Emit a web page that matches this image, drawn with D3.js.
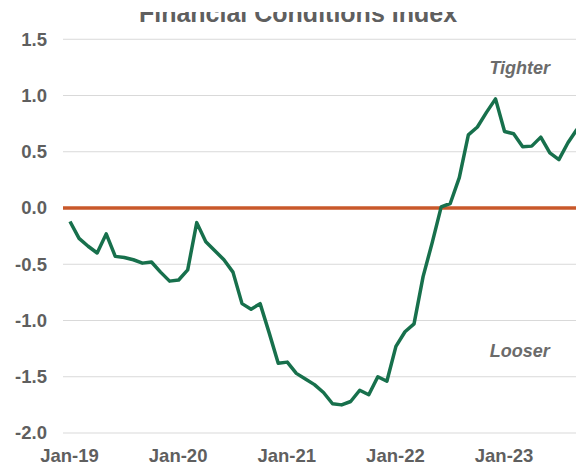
<!DOCTYPE html>
<html>
<head>
<meta charset="utf-8">
<script src="https://cdn.jsdelivr.net/npm/d3@7"></script>
<style>
  html, body { margin: 0; padding: 0; background: #ffffff; }
  svg { display: block; }
</style>
</head>
<body>
<div id="chart"></div>
<script>
// ---- Data (monthly, Jan-2019 .. Sep-2023) ----
const startYear = 2019;
const values = [
  -0.12, -0.27, -0.34, -0.40, -0.23, -0.43, -0.44, -0.46, -0.49, -0.48,
  -0.57, -0.65, -0.64, -0.55, -0.13, -0.30, -0.38, -0.46, -0.57, -0.85,
  -0.90, -0.85, -1.11, -1.38, -1.37, -1.47, -1.52, -1.57, -1.64, -1.74,
  -1.75, -1.72, -1.62, -1.66, -1.50, -1.54, -1.23, -1.10, -1.03, -0.61,
  -0.31, 0.01, 0.04, 0.27, 0.65, 0.72, 0.85, 0.97, 0.68, 0.66,
  0.545, 0.55, 0.63, 0.49, 0.43, 0.58, 0.70
];
const yTicks = [1.5, 1.0, 0.5, 0.0, -0.5, -1.0, -1.5, -2.0];
const xTickLabels = ["Jan-19", "Jan-20", "Jan-21", "Jan-22", "Jan-23"];
const xTickIndex = [0, 12, 24, 36, 48];
const titleText = "Financial Conditions Index";
const annotations = [
  { text: "Tighter", value: 1.25, month: 51 },
  { text: "Looser", value: -1.27, month: 51 }
];

const data = values.map((v, i) => ({ i, v }));

const W = 576, H = 473;
const svg = d3.select("#chart").append("svg")
  .attr("width", W).attr("height", H);

const x = d3.scaleLinear().domain([0, 56]).range([70, 577]);
const y = d3.scaleLinear().domain([-2.0, 1.5]).range([433, 39.25]);

const font = "'Liberation Sans', Arial, sans-serif";
const textColor = "#5f5f5f";

// Title (top clipped as in reference)
const defs = svg.append("defs");
defs.append("clipPath").attr("id", "titleClip")
  .append("rect").attr("x", 0).attr("y", 12).attr("width", W).attr("height", 20);
svg.append("text")
  .attr("clip-path", "url(#titleClip)")
  .attr("x", 298).attr("y", 22)
  .attr("text-anchor", "middle")
  .attr("font-family", font).attr("font-weight", "bold")
  .attr("font-size", 25).attr("fill", textColor)
  .text(titleText);

// Gridlines
svg.append("g").selectAll("line")
  .data(yTicks.filter(t => t !== 0))
  .join("line")
  .attr("x1", 63).attr("x2", W)
  .attr("y1", d => y(d)).attr("y2", d => y(d))
  .attr("stroke", "#d9d9d9").attr("stroke-width", 1);

// Y axis labels
const yAxis = d3.axisLeft(y).tickValues(yTicks).tickSize(0).tickPadding(0)
  .tickFormat(d3.format(".1f"));
const gy = svg.append("g").attr("transform", "translate(47,0)").call(yAxis);
gy.select(".domain").remove();
gy.selectAll("text")
  .attr("font-family", font).attr("font-weight", "bold")
  .attr("font-size", 18.5).attr("fill", textColor)
  .text(d => d3.format(".1f")(d).replace("−", "-"));

// X axis labels
const xAxis = d3.axisBottom(x).tickValues(xTickIndex).tickSize(0).tickPadding(0)
  .tickFormat((d, i) => xTickLabels[i]);
const gx = svg.append("g").attr("transform", "translate(-1,449)").call(xAxis);
gx.select(".domain").remove();
gx.selectAll("text")
  .attr("font-family", font).attr("font-weight", "bold")
  .attr("font-size", 18.5).attr("fill", textColor);

// Zero line
svg.append("line")
  .attr("x1", 63).attr("x2", W)
  .attr("y1", y(0)).attr("y2", y(0))
  .attr("stroke", "#c9582a").attr("stroke-width", 3.4);

// Index line
const line = d3.line().x(d => x(d.i)).y(d => y(d.v));
svg.append("path")
  .datum(data)
  .attr("d", line)
  .attr("fill", "none")
  .attr("stroke", "#17704c")
  .attr("stroke-width", 3.5)
  .attr("stroke-linejoin", "round");

// Annotations
svg.append("g").selectAll("text")
  .data(annotations)
  .join("text")
  .attr("x", d => x(d.month) - 12)
  .attr("y", d => y(d.value))
  .attr("dy", "0.35em")
  .attr("text-anchor", "middle")
  .attr("font-family", font).attr("font-weight", "bold").attr("font-style", "italic")
  .attr("font-size", 18).attr("fill", "#6b6b6b")
  .text(d => d.text);
</script>
</body>
</html>
